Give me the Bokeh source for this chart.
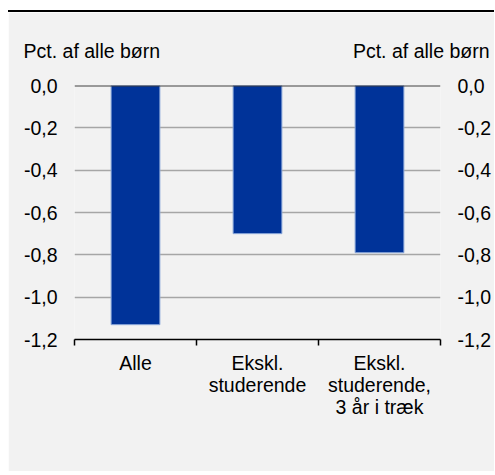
from bokeh.plotting import figure
from bokeh.models import (ColumnDataSource, LinearAxis, FixedTicker, Range1d)
from bokeh.embed import file_html
from bokeh.resources import INLINE

categories = ["Alle", "Ekskl.\nstuderende", "Ekskl.\nstuderende,\n3 år i træk"]
values = [-1.13, -0.70, -0.79]
y_ticks = [0.0, -0.2, -0.4, -0.6, -0.8, -1.0, -1.2]
y_tick_labels = ["0,0", "-0,2", "-0,4", "-0,6", "-0,8", "-1,0", "-1,2"]
unit_label = "Pct. af alle børn"

FONT = "Liberation Sans"
FS = "19.5px"
BG = "#f2f2f2"

xpos = [i + 0.5 for i in range(len(categories))]
src = ColumnDataSource(data=dict(x=xpos, top=values))

W, H = 486, 461
p = figure(width=W, height=H, output_backend="svg", toolbar_location=None,
           x_range=Range1d(0, len(categories)), y_range=Range1d(-1.2, 0.0),
           min_border_left=66, min_border_right=W - 432,
           min_border_top=73, min_border_bottom=H - 327)
p.margin = (10, 0, 0, 8)
p.styles = {"border-top": "2px solid black"}
p.background_fill_color = BG
p.border_fill_color = BG
p.outline_line_color = None

p.vbar(x="x", top="top", bottom=0, width=0.4, source=src,
       fill_color="#003399", line_color="#8eaadb", line_width=1)

# x axis
xa = p.xaxis[0]
xa.ticker = FixedTicker(ticks=xpos, minor_ticks=list(range(len(categories) + 1)))
xa.major_label_overrides = {x: c for x, c in zip(xpos, categories)}
xa.major_tick_line_color = None
xa.major_tick_out = 0
xa.major_tick_in = 0
xa.minor_tick_line_color = "black"
xa.minor_tick_line_width = 1.5
xa.minor_tick_out = 6
xa.minor_tick_in = 0
xa.axis_line_color = "black"
xa.axis_line_width = 1.5
xa.major_label_text_font = FONT
xa.major_label_text_font_size = FS
xa.major_label_text_color = "black"
xa.major_label_standoff = 6
xa.major_label_text_line_height = 1.0

# y axes
ylab = {t: l for t, l in zip(y_ticks, y_tick_labels)}
def style_y(ax):
    ax.ticker = FixedTicker(ticks=y_ticks)
    ax.major_label_overrides = ylab
    ax.axis_line_color = None
    ax.major_tick_line_color = None
    ax.minor_tick_line_color = None
    ax.major_tick_out = 0
    ax.major_tick_in = 0
    ax.major_label_standoff = 17
    ax.major_label_text_font = FONT
    ax.major_label_text_font_size = FS
    ax.major_label_text_color = "black"

style_y(p.yaxis[0])
ra = LinearAxis()
style_y(ra)
p.add_layout(ra, "right")

# unit labels above both value axes (an unlined axis above the frame)
unit_pos = [0.142, 2.842]
ta = LinearAxis(ticker=FixedTicker(ticks=unit_pos, minor_ticks=[]),
                major_label_overrides={u: unit_label for u in unit_pos})
ta.axis_line_color = None
ta.major_tick_line_color = None
ta.minor_tick_line_color = None
ta.major_tick_out = 0
ta.major_tick_in = 0
ta.major_label_standoff = 24
ta.major_label_text_font = FONT
ta.major_label_text_font_size = FS
ta.major_label_text_color = "black"
p.add_layout(ta, "above")

p.xgrid.grid_line_color = None
p.ygrid.ticker = FixedTicker(ticks=y_ticks[1:-1])
p.ygrid.grid_line_color = "#a6a6a6"
p.ygrid.grid_line_width = 1.5

# zero line
p.line(x=[0, len(categories)], y=[0, 0], line_color="#404040", line_width=2)

open("out.html", "w").write(file_html(p, INLINE))
